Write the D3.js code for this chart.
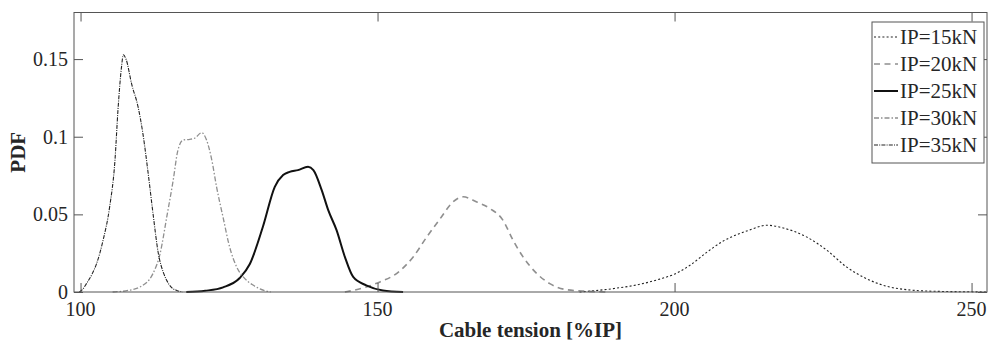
<!DOCTYPE html>
<html>
<head>
<meta charset="utf-8">
<script src="https://cdn.jsdelivr.net/npm/d3@7"></script>
<style>
  body { margin: 0; background: #fff; }
  text { font-family: "Liberation Serif", "Times New Roman", serif; }
</style>
</head>
<body>
<div id="myChart"></div>
<script>
// values: cable tension [%IP] and PDF
var ip15X = [184, 189.7, 194.2, 197.5, 199.8, 202.6, 205.4, 208.2, 211.0, 212.7, 215.5, 218.3, 222.2, 225.6, 229.0, 232.3, 235.7, 239.1, 243.5, 250.3, 252.6];
var ip15Y = [0, 0.0022, 0.005, 0.0083, 0.0112, 0.0172, 0.0255, 0.0328, 0.0377, 0.0400, 0.043, 0.0412, 0.0355, 0.027, 0.016, 0.0086, 0.0037, 0.0015, 0.0005, 0.0001, 0];

var ip20X = [144.5, 148.1, 150.4, 153.2, 156.0, 158.3, 160.5, 162.7, 164.4, 166.7, 168.9, 171.1, 172.8, 174.5, 176.8, 179.0, 181.8, 185.2, 188.6];
var ip20Y = [0, 0.0032, 0.0065, 0.0119, 0.0226, 0.0355, 0.047, 0.058, 0.0613, 0.058, 0.0538, 0.0463, 0.0334, 0.0226, 0.0119, 0.0054, 0.0015, 0.0005, 0];

var ip25X = [117.8, 121, 124, 126.8, 128.5, 130.7, 132.7, 134.1, 135.2, 136.6, 138.3, 139.2, 140.6, 141.7, 143.1, 144.5, 145.9, 148.1, 150.9, 154.3];
var ip25Y = [0, 0.0008, 0.003, 0.009, 0.018, 0.042, 0.0677, 0.0753, 0.0774, 0.0785, 0.0806, 0.0785, 0.0656, 0.0527, 0.0398, 0.0226, 0.0097, 0.0043, 0.001, 0];

var ip30X = [105.4, 108, 110, 112.2, 113.4, 114.5, 115.6, 116.4, 117.3, 118.4, 119.2, 120.4, 121.2, 122.1, 122.9, 124.0, 125.1, 126.3, 127.4, 129.1, 130.2, 132];
var ip30Y = [0, 0.001, 0.0032, 0.0119, 0.0248, 0.048, 0.072, 0.0914, 0.0979, 0.0983, 0.099, 0.1026, 0.098, 0.085, 0.0677, 0.048, 0.029, 0.016, 0.0097, 0.0043, 0.002, 0];

var ip35X = [99.8, 100.3, 101, 102, 102.7, 103.8, 104.9, 105.8, 106.3, 106.9, 107.2, 107.7, 108.6, 109.7, 110.5, 111.4, 112.2, 113.1, 114.0, 114.5, 115.3, 116.2, 117.2];
var ip35Y = [0, 0.0015, 0.0054, 0.012, 0.0183, 0.0334, 0.0548, 0.085, 0.117, 0.145, 0.1527, 0.1495, 0.134, 0.119, 0.102, 0.076, 0.0506, 0.0248, 0.012, 0.0075, 0.003, 0.001, 0];

var seriesNames = ["IP=15kN", "IP=20kN", "IP=25kN", "IP=30kN", "IP=35kN"];
var xTicks = [100, 150, 200, 250];
var yTicks = [0, 0.05, 0.1, 0.15];
var yTickLabels = ["0", "0.05", "0.1", "0.15"];

var seriesStyle = [
  { color: "#222", width: 1.1, dash: "2,2.2" },
  { color: "#8f8f8f", width: 1.6, dash: "6,4.5" },
  { color: "#111", width: 2, dash: null },
  { color: "#8f8f8f", width: 1.3, dash: "5,2,1.5,2" },
  { color: "#222", width: 1.1, dash: "4,1.2,1,1.2" }
];

var series = [
  { name: seriesNames[0], x: ip15X, y: ip15Y },
  { name: seriesNames[1], x: ip20X, y: ip20Y },
  { name: seriesNames[2], x: ip25X, y: ip25Y },
  { name: seriesNames[3], x: ip30X, y: ip30Y },
  { name: seriesNames[4], x: ip35X, y: ip35Y }
];

let svgWidth = 989;
let svgHeight = 344;
let margin = { left: 74, right: 2, top: 12.5, bottom: 52 };
let svg = d3.select("#myChart").append("svg")
  .attr("width", svgWidth)
  .attr("height", svgHeight);

var x = d3.scaleLinear()
  .domain([98.9, 252.6])
  .range([margin.left, svgWidth - margin.right]);
var y = d3.scaleLinear()
  .domain([0, 0.18])
  .range([svgHeight - margin.bottom, margin.top]);

var axisColor = "#262626";
var boxColor = "#555";
var tickLen = 9;

// curves
var line = d3.line()
  .x(function(d) { return x(d[0]); })
  .y(function(d) { return y(d[1]); })
  .curve(d3.curveMonotoneX);

svg.append("g")
  .selectAll("path")
  .data(series)
  .enter()
  .append("path")
  .attr("d", function(d) { return line(d.x.map(function(v, i) { return [v, d.y[i]]; })); })
  .attr("fill", "none")
  .attr("stroke", function(d, i) { return seriesStyle[i].color; })
  .attr("stroke-width", function(d, i) { return seriesStyle[i].width; })
  .attr("stroke-dasharray", function(d, i) { return seriesStyle[i].dash; });

// axes on all four sides, ticks pointing inward
let x0 = x.range()[0], x1 = x.range()[1];
let y0 = y.range()[0], y1 = y.range()[1];

svg.append("g")
  .attr("transform", "translate(0," + y0 + ")")
  .call(d3.axisTop(x).tickValues(xTicks).tickSize(tickLen).tickFormat(""))
  .call(function(g) { g.select(".domain").remove(); });
svg.append("g")
  .attr("transform", "translate(0," + y1 + ")")
  .call(d3.axisBottom(x).tickValues(xTicks).tickSize(tickLen).tickFormat(""))
  .call(function(g) { g.select(".domain").remove(); });
svg.append("g")
  .attr("transform", "translate(" + x0 + ",0)")
  .call(d3.axisRight(y).tickValues(yTicks).tickSize(tickLen).tickFormat(""))
  .call(function(g) { g.select(".domain").remove(); });
svg.append("g")
  .attr("transform", "translate(" + x1 + ",0)")
  .call(d3.axisLeft(y).tickValues(yTicks).tickSize(tickLen).tickFormat(""))
  .call(function(g) { g.select(".domain").remove(); });
svg.selectAll(".tick line").attr("stroke", boxColor);

svg.append("rect")
  .attr("x", x0)
  .attr("y", y1)
  .attr("width", x1 - x0)
  .attr("height", y0 - y1)
  .attr("fill", "none")
  .attr("stroke", boxColor)
  .attr("stroke-width", 1);

// tick labels
svg.append("g")
  .selectAll("text")
  .data(xTicks)
  .enter()
  .append("text")
  .attr("x", function(d) { return x(d); })
  .attr("y", y0 + 24)
  .attr("text-anchor", "middle")
  .attr("font-size", 20)
  .attr("fill", axisColor)
  .text(function(d) { return d; });

svg.append("g")
  .selectAll("text")
  .data(yTicks)
  .enter()
  .append("text")
  .attr("x", x0 - 6)
  .attr("y", function(d) { return y(d) + 7; })
  .attr("text-anchor", "end")
  .attr("font-size", 20)
  .attr("fill", axisColor)
  .text(function(d, i) { return yTickLabels[i]; });

// axis titles
svg.append("text")
  .attr("x", (x0 + x1) / 2)
  .attr("y", 337)
  .attr("text-anchor", "middle")
  .attr("font-size", 21)
  .attr("font-weight", "bold")
  .attr("fill", axisColor)
  .text("Cable tension [%IP]");

svg.append("text")
  .attr("transform", "translate(25," + ((y0 + y1) / 2) + ") rotate(-90)")
  .attr("text-anchor", "middle")
  .attr("font-size", 21)
  .attr("font-weight", "bold")
  .attr("fill", axisColor)
  .text("PDF");

// legend
let legX = 872, legY = 22, legW = 112, rowH = 27;
let legend = svg.append("g");
legend.append("rect")
  .attr("x", legX)
  .attr("y", legY)
  .attr("width", legW)
  .attr("height", rowH * seriesNames.length + 6)
  .attr("fill", "#fff")
  .attr("stroke", boxColor)
  .attr("stroke-width", 1);

let rows = legend.selectAll("g.row")
  .data(seriesNames)
  .enter()
  .append("g")
  .attr("class", "row")
  .attr("transform", function(d, i) { return "translate(" + legX + "," + (legY + 15 + i * rowH) + ")"; });

rows.append("line")
  .attr("x1", 2)
  .attr("x2", 26)
  .attr("y1", 0)
  .attr("y2", 0)
  .attr("stroke", function(d, i) { return seriesStyle[i].color; })
  .attr("stroke-width", function(d, i) { return seriesStyle[i].width; })
  .attr("stroke-dasharray", function(d, i) { return seriesStyle[i].dash; });

rows.append("text")
  .attr("x", 28)
  .attr("y", 7)
  .attr("font-size", 21)
  .attr("fill", axisColor)
  .text(function(d) { return d; });
</script>
</body>
</html>
